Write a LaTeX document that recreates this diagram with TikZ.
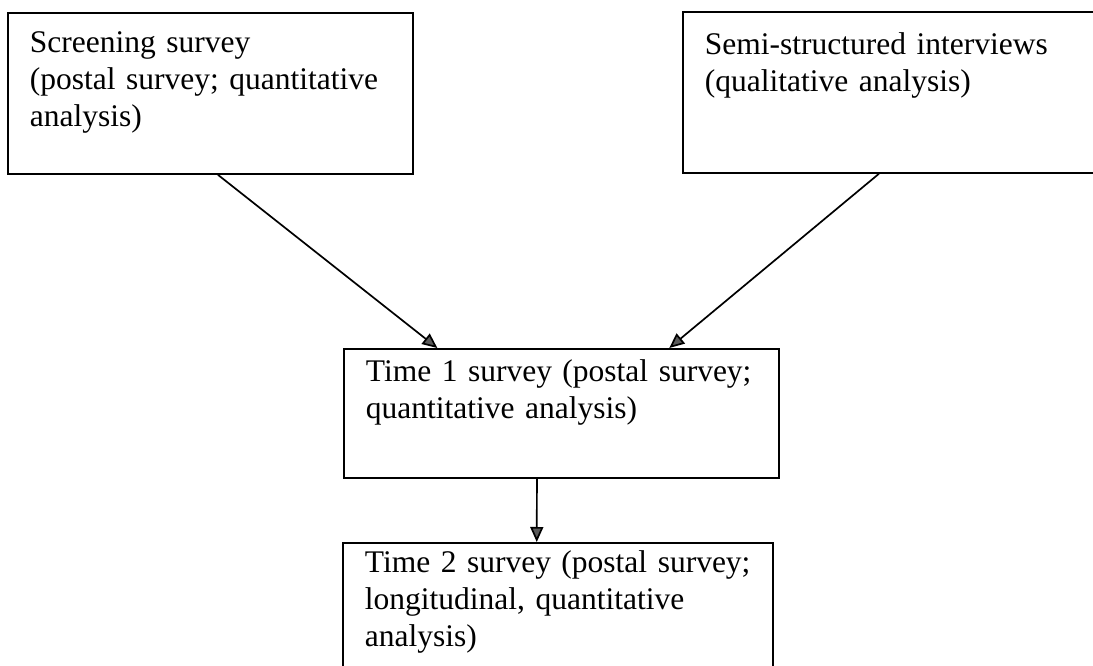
\documentclass[tikz,border=0pt]{standalone}
\usepackage{fontspec}
\setmainfont{Liberation Serif}
\usetikzlibrary{arrows.meta,calc}
\tikzset{
  stagebox/.style={draw=black, line width=1.8pt, anchor=north west, inner xsep=22pt, inner ysep=0pt,
    align=left, font=\fontsize{31.5pt}{37pt}\selectfont},
  flow/.style={draw=black, line width=1.7pt, -{Triangle[length=15pt,width=13pt,fill=black!65]}}
}
\begin{document}
\begin{tikzpicture}[x=1pt,y=-1pt]
\clip (0,0) rectangle (1093,666);
\fill[white] (0,0) rectangle (1093,666);
\node[stagebox, text width=361pt, text height=40pt, text depth=121pt] (A) at (7,12)
  {Screening survey\\(postal survey; quantitative\\analysis)};
\node[stagebox, text width=374pt, text height=43pt, text depth=118pt] (B) at (682,11)
  {Semi-structured interviews\\(qualitative analysis)};
\node[stagebox, text width=391pt, text height=33pt, text depth=96pt] (C) at (343,348)
  {Time 1 survey (postal survey;\\quantitative analysis)};
\node[stagebox, text width=386pt, text height=30pt, text depth=120pt] (D) at (342,542)
  {Time 2 survey (postal survey;\\longitudinal, quantitative\\analysis)};
\draw[flow] ($(A.south west)!0.5185!(A.south east)$) -- ($(C.north west)!0.216!(C.north east)$);
\draw[flow] ($(B.south west)!0.469!(B.south east)$) -- ($(C.north west)!0.747!(C.north east)$);
\draw[flow] ($(C.south west)!0.444!(C.south east)$) -- ($(D.north west)!0.451!(D.north east)$);
\end{tikzpicture}
\end{document}
